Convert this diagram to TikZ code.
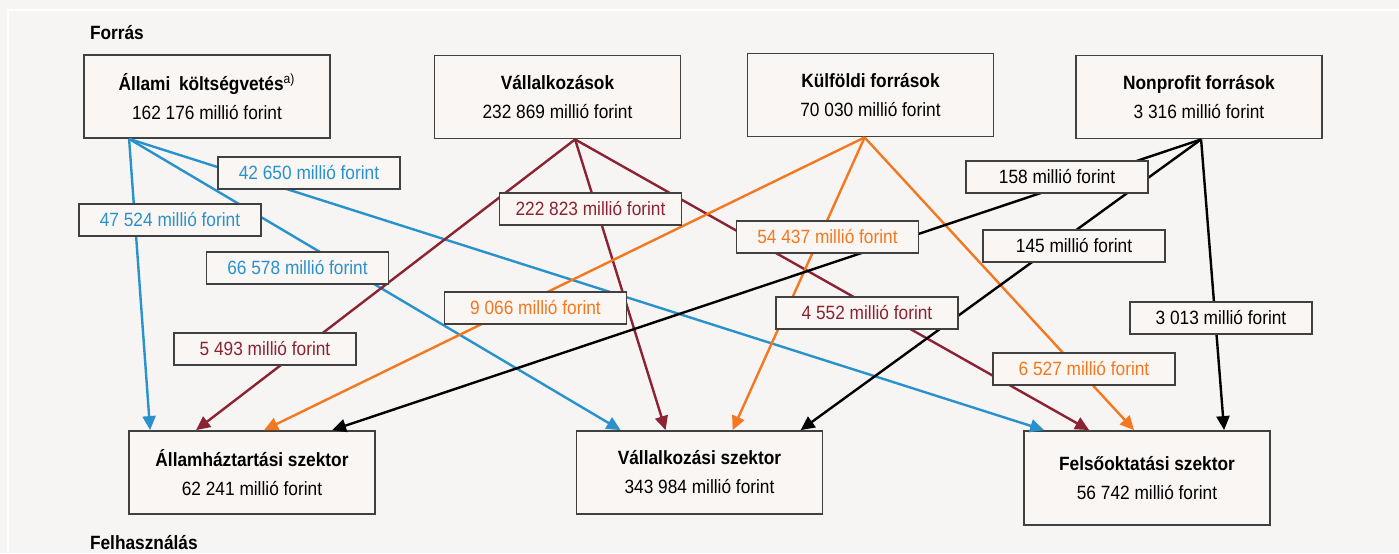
\documentclass[tikz,border=0pt]{standalone}
\usepackage{fontspec}
\setmainfont[FakeStretch=0.9]{Liberation Sans}
\usetikzlibrary{arrows.meta,calc}
\definecolor{bgcol}{RGB}{246,245,243}
\definecolor{boxcol}{RGB}{249,246,244}
\definecolor{framecol}{RGB}{64,64,64}
\definecolor{ksblue}{RGB}{41,146,204}
\definecolor{ksred}{RGB}{139,35,50}
\definecolor{ksorange}{RGB}{243,120,32}

\begin{document}
\begin{tikzpicture}[x=0.5pt,y=-0.5pt,
	font=\fontsize{9.6}{14.5}\selectfont,
	mainbox/.style={draw=framecol,fill=boxcol,line width=0.9pt,minimum width=123pt,minimum height=41.5pt,align=center,inner sep=0pt},
	amount/.style={draw=framecol,fill=boxcol,line width=0.9pt,minimum width=91pt,minimum height=16pt,inner sep=0pt},
	flow/.style={line width=1.2pt,-{Triangle[length=7pt,width=6.5pt]}}]
				% Background
				\useasboundingbox (0,0) rectangle (1399,553);
				\fill[bgcol] (0,0) rectangle (1399,553);
				\draw[white,line width=1pt] (8,553) -- (8,10) -- (1399,10);
				\node[anchor=west,font=\fontsize{9.6}{11}\selectfont\bfseries] (forras) at (83,33) {Forrás};
				\node[anchor=west,font=\fontsize{9.6}{11}\selectfont\bfseries] (felhasz) at (83,543) {Felhasználás};
				
				% Sources
				\node[mainbox] (allami) at (207,96.5) {\textbf{Állami\hspace{0.45em}költségvetés}\textsuperscript{a)}\\162 176 millió forint};
				\node[mainbox] (vall) at (557.5,97) {\textbf{Vállalkozások}\\232 869 millió forint};
				\node[mainbox] (kulf) at (870.5,95) {\textbf{Külföldi források}\\70 030 millió forint};
				\node[mainbox] (nonp) at (1199,97) {\textbf{Nonprofit források}\\3 316 millió forint};
				
				% Users
				\node[mainbox] (aht) at (252,472.5) {\textbf{Államháztartási szektor}\\62 241 millió forint};
				\node[mainbox] (vsz) at (699.5,472.5) {\textbf{Vállalkozási szektor}\\343 984 millió forint};
				\node[mainbox,minimum height=47pt] (fosz) at (1147,478) {\textbf{Felsőoktatási szektor}\\56 742 millió forint};
				
				% Start and end points
				\coordinate (allamiS) at ($(allami.south west)+(46,0)$);
				\coordinate (vallS) at ($(vall.south west)+(141.5,0)$);
				\coordinate (kulfS) at ($(kulf.south west)+(118,0)$);
				\coordinate (nonpS) at ($(nonp.south west)+(126,0)$);
				\coordinate (ahtB) at ($(aht.north west)+(22,0)$);
				\coordinate (ahtR) at ($(aht.north west)+(68,0)$);
				\coordinate (ahtO) at ($(aht.north west)+(136,0)$);
				\coordinate (ahtK) at ($(aht.north west)+(204,0)$);
				\coordinate (vszB) at ($(vsz.north west)+(45,0)$);
				\coordinate (vszR) at ($(vsz.north west)+(90,0)$);
				\coordinate (vszO) at ($(vsz.north west)+(157,0)$);
				\coordinate (vszK) at ($(vsz.north west)+(225,0)$);
				\coordinate (foszB) at ($(fosz.north west)+(21,0)$);
				\coordinate (foszR) at ($(fosz.north west)+(66,0)$);
				\coordinate (foszO) at ($(fosz.north west)+(111,0)$);
				\coordinate (foszK) at ($(fosz.north west)+(201,0)$);
				
				% Flows
				\draw[flow,ksblue] (allamiS) -- (ahtB);
				\draw[flow,ksblue] (allamiS) -- (vszB);
				\draw[flow,ksblue] (allamiS) -- (foszB);
				\draw[flow,ksred] (vallS) -- (ahtR);
				\draw[flow,ksred] (vallS) -- (vszR);
				\draw[flow,ksred] (vallS) -- (foszR);
				\draw[flow,ksorange] (kulfS) -- (ahtO);
				\draw[flow,ksorange] (kulfS) -- (vszO);
				\draw[flow,ksorange] (kulfS) -- (foszO);
				\draw[flow,black] (nonpS) -- (ahtK);
				\draw[flow,black] (nonpS) -- (vszK);
				\draw[flow,black] (nonpS) -- (foszK);
				
				% Amounts
				\node[amount,text=ksblue] (lab42650) at (309,173) {42 650 millió forint};
				\node[amount,text=ksblue] (lab47524) at (170,220) {47 524 millió forint};
				\node[amount,text=ksblue] (lab66578) at (297.5,268) {66 578 millió forint};
				\node[amount,text=ksred] (lab5493) at (265,349) {5 493 millió forint};
				\node[amount,text=ksred] (lab222823) at (590.5,209) {222 823 millió forint};
				\node[amount,text=ksred] (lab4552) at (867,313) {4 552 millió forint};
				\node[amount,text=ksorange] (lab9066) at (535.5,308) {9 066 millió forint};
				\node[amount,text=ksorange] (lab54437) at (827.5,237) {54 437 millió forint};
				\node[amount,text=ksorange] (lab6527) at (1084,369) {6 527 millió forint};
				\node[amount] (lab158) at (1057,177) {158 millió forint};
				\node[amount] (lab145) at (1074,246) {145 millió forint};
				\node[amount] (lab3013) at (1221,318) {3 013 millió forint};
			\end{tikzpicture}
\end{document}
